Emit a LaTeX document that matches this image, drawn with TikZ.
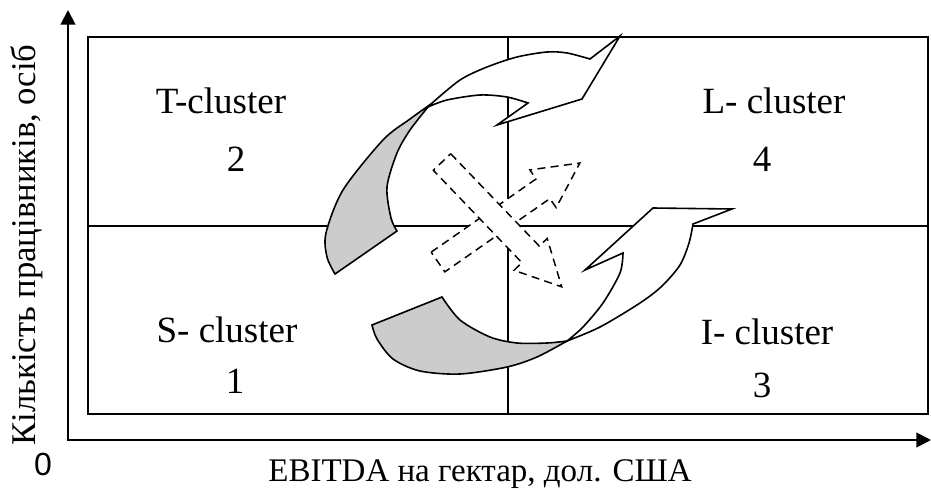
\documentclass[tikz,border=0pt]{standalone}
\usepackage{fontspec}
\setmainfont{Liberation Serif}
\newfontfamily\axisnumfont{Liberation Sans}
\usepackage{tikz}
\usetikzlibrary{arrows.meta}
\definecolor{ribbongray}{HTML}{CCCCCC}

\begin{document}
\begin{tikzpicture}[
    x=0.75pt, y=-0.75pt,
    quad/.style={anchor=base, font=\fontsize{27.75}{33}\selectfont},
    axislabel/.style={anchor=base, font=\fontsize{24.75}{30}\selectfont},
    grid/.style={line width=1.5pt},
    ribbon/.style={draw=black, line width=1.2pt, line join=miter, fill=#1},
    ribbon/.default=white,
    dasharrow/.style={draw=black, line width=1.1pt, fill=white, dash pattern=on 6pt off 4pt},
    blockarrow/.pic={\path[dasharrow] (0,-12) -- (128,-12) -- (128,-23) -- (173,0) -- (128,23) -- (128,12) -- (0,12) -- cycle;},
]
    \useasboundingbox (0,0) rectangle (931,489);

    % Axes
    \coordinate (origin) at (68,440);
    \coordinate (ytip) at (68,10);
    \coordinate (xtip) at (931,440);
    \draw[grid, line join=miter, {Triangle[length=11pt,width=11pt]}-{Triangle[length=11pt,width=11pt]}] (ytip) -- (origin) -- (xtip);

    % Quadrant grid
    \draw[grid] (88,37) rectangle (928,414);
    \draw[grid] (508,37) -- (508,414) (88,226) -- (928,226);

    % Dashed cross arrows
    \path (438,262) pic[rotate=34.9] {blockarrow};
    \path (442,162) pic[rotate=-46.2] {blockarrow};

    % Upper ribbon arrow
    \path[ribbon=ribbongray] plot[smooth] coordinates {(431,104) (410,119) (383,140) (343,190) (326,233) (327,257) (335,274)}
        -- (397,231) -- plot[smooth] coordinates {(397,231) (391,218) (387,187) (397,153) (410,130) (428,107)} -- cycle;
    \path[ribbon] plot[smooth] coordinates {(431,104) (460,80) (487,67) (517,57) (547,52) (567,53) (590,59)}
        -- (620,36) -- (582,99) -- (497,125) -- (528,103)
        -- plot[smooth] coordinates {(528,103) (507,97) (480,95) (447,100) (428,107)} -- cycle;

    % Lower ribbon arrow
    \path[ribbon=ribbongray] (372,325) -- (442,297)
        -- plot[smooth] coordinates {(442,297) (460,320) (490,337) (517,343) (547,343) (567,341)}
        -- plot[smooth] coordinates {(567,341) (537,357) (507,367) (460,374) (420,371) (393,359) (377,339) (372,325)} -- cycle;
    \path[ribbon] plot[smooth] coordinates {(567,341) (600,327) (640,303) (662,286) (680,265) (689,243) (693,224)}
        -- (732,209) -- (653,208) -- (585,270) -- (623,253)
        -- plot[smooth] coordinates {(623,253) (620,273) (603,303) (583,327) (567,341)} -- cycle;

    % Cluster labels
    \node[quad] (tlabel) at (221,113) {T-cluster};
    \node[quad] (tnum) at (236,171) {2};
    \node[quad] (llabel) at (774,113) {L- cluster};
    \node[quad] (lnum) at (762,171) {4};
    \node[quad] (slabel) at (227,342) {S- cluster};
    \node[quad] (snum) at (235,393) {1};
    \node[quad] (ilabel) at (767,344) {I- cluster};
    \node[quad] (inum) at (762,397) {3};

    % Axis labels
    \node[axislabel] (xlabel) at (480,481) {EBITDA на гектар, дол. США};
    \node[axislabel, rotate=90, font=\fontsize{26}{31}\selectfont] (ylabel) at (36,245) {Кількість працівників, осіб};
    \node[font=\axisnumfont\fontsize{24}{28}\selectfont] (zero) at (43,464) {0};

\end{tikzpicture}
\end{document}
